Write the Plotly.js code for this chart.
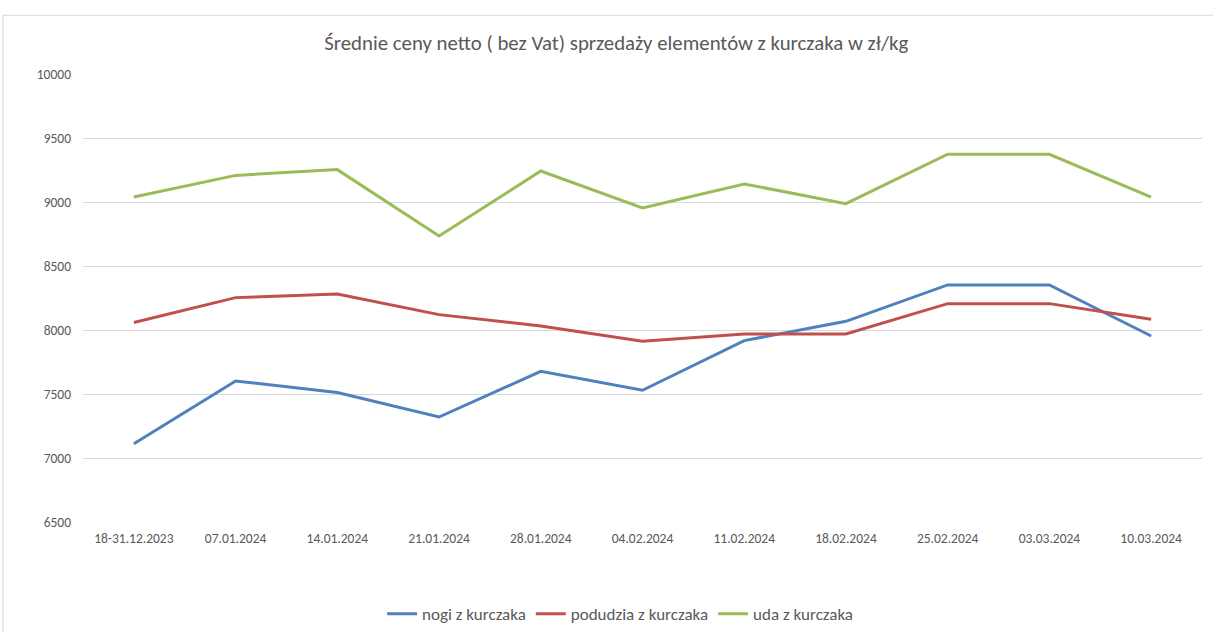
<!DOCTYPE html>
<html>
<head>
<meta charset="utf-8">
<script src="https://cdn.plot.ly/plotly-3.0.1.min.js"></script>
<style>html,body{margin:0;padding:0;background:#fff;}#chart{width:1213px;height:632px;}</style>
</head>
<body>
<div id="chart"></div>
<script>
const categories = ["18-31.12.2023","07.01.2024","14.01.2024","21.01.2024","28.01.2024","04.02.2024","11.02.2024","18.02.2024","25.02.2024","03.03.2024","10.03.2024"];
const nogi = [7112, 7602, 7511, 7320, 7677, 7529, 7917, 8068, 8352, 8352, 7953];
const podudzia = [8058, 8253, 8281, 8120, 8031, 7912, 7969, 7969, 8206, 8206, 8084];
const uda = [9039, 9208, 9253, 8734, 9242, 8953, 9141, 8987, 9373, 9373, 9039];
const seriesNames = ["nogi z kurczaka", "podudzia z kurczaka", "uda z kurczaka"];
const yTicks = [6500, 7000, 7500, 8000, 8500, 9000, 9500, 10000];

const colors = ["#4F81BD", "#C0504D", "#9BBB59"];
const font = "Carlito, 'Liberation Sans Narrow', 'DejaVu Sans Condensed', 'Open Sans', sans-serif";
const data = [nogi, podudzia, uda].map((vals, i) => ({
  type: "scatter", mode: "lines", x: categories, y: vals, name: seriesNames[i],
  line: {color: colors[i], width: 3}
}));

const layout = {
  width: 1213, height: 632,
  margin: {l: 83, r: 11, t: 74, b: 110, autoexpand: false},
  paper_bgcolor: "#fff", plot_bgcolor: "#fff",
  font: {family: font, color: "#595959", size: 13.5},
  title: {text: "Średnie ceny netto ( bez Vat) sprzedaży elementów z kurczaka w zł/kg",
          font: {family: font, size: 20.8, color: "#595959"}, x: 0.508, xanchor: "center", y: 0.932, yanchor: "middle"},
  xaxis: {type: "category", range: [-0.5, 10.5], showgrid: false, showline: false, ticks: "", ticklabelstandoff: 6, tickfont: {size: 13.5, color: "#595959"}, fixedrange: true},
  yaxis: {range: [6500, 10000], tickvals: yTicks, ticktext: yTicks.map(String), showgrid: true, gridcolor: "#d9d9d9", gridwidth: 1,
          zeroline: false, showline: false, ticks: "", ticklabelstandoff: 11, tickfont: {size: 13.5, color: "#595959"}},
  showlegend: true,
  legend: {orientation: "h", x: 0.48, xanchor: "center", yref: "container", y: 0.028, yanchor: "middle", font: {size: 17, color: "#595959"}, itemwidth: 30, tracegroupgap: 0},
  shapes: [
    {type: "line", xref: "paper", yref: "paper", x0: -0.0715, x1: -0.0715, y0: 1.131, y1: -0.3, line: {color: "#d9d9d9", width: 1}},
    {type: "line", xref: "paper", yref: "paper", x0: -0.0715, x1: 1.02, y0: 1.131, y1: 1.131, line: {color: "#d9d9d9", width: 1}}
  ]
};
Plotly.newPlot("chart", data, layout, {displayModeBar: false, staticPlot: true});
</script>
</body>
</html>
